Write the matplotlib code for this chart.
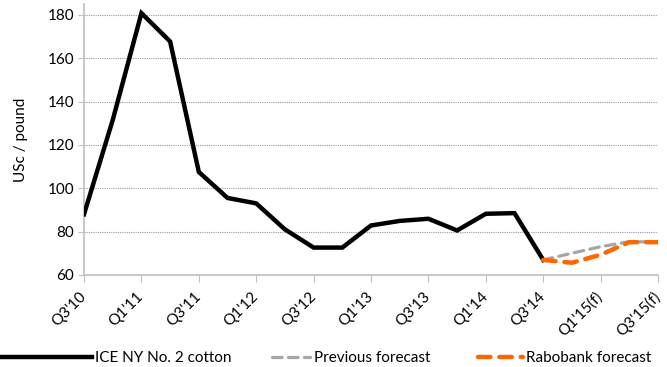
import matplotlib.pyplot as plt
import numpy as np

plt.rcParams['font.family'] = ['Lato', 'DejaVu Sans']

quarters = ["Q3'10", "Q4'10", "Q1'11", "Q2'11", "Q3'11", "Q4'11", "Q1'12", "Q2'12",
            "Q3'12", "Q4'12", "Q1'13", "Q2'13", "Q3'13", "Q4'13", "Q1'14", "Q2'14",
            "Q3'14", "Q4'14(f)", "Q1'15(f)", "Q2'15(f)", "Q3'15(f)"]

ice_cotton = [88, 131.5, 180.8, 167.7, 107.5, 95.5, 93, 81, 72.6, 72.6,
              82.8, 84.9, 85.9, 80.5, 88.2, 88.5, 66.9]
previous_fc = [66.9, 70, 73, 75.3, 75.2]
rabobank_fc = [66.9, 65.6, 69.3, 75.1, 75.1]

x = np.arange(len(quarters))
x_ice = x[:len(ice_cotton)]
x_fc = x[len(ice_cotton) - 1:]

fig = plt.figure(figsize=(6.67, 3.67), dpi=100)
ax = fig.add_axes([0.126, 0.251, 0.8605, 0.738])

l1, = ax.plot(x_ice, ice_cotton, color='black', lw=3.2, solid_joinstyle='miter',
              label='ICE NY No. 2 cotton', zorder=3)
l2, = ax.plot(x_fc, previous_fc, color='#a6a6a6', lw=2.3, dashes=(3, 2),
              dash_capstyle='round', label='Previous forecast', zorder=3)
l3, = ax.plot(x_fc, rabobank_fc, color='#ff6600', lw=3.2, dashes=(2.8, 2),
              dash_capstyle='round', label='Rabobank forecast', zorder=4)

ax.set_xlim(0, len(quarters) - 1)
ax.set_ylim(60, 185)
ax.set_yticks(np.arange(60, 181, 20))
ax.set_xticks(x[::2])
ax.set_xticklabels(quarters[::2], rotation=45, ha='right', va='center',
                   rotation_mode='anchor')
ax.tick_params(axis='x', length=5, color='#bfbfbf', labelsize=11, pad=9)
ax.tick_params(axis='y', length=4, color='#bfbfbf', labelsize=11, pad=3)

for v in range(80, 181, 20):
    ax.axhline(v, color='#999999', lw=0.8, ls=(0, (1, 1)), zorder=1)

for s in ['top', 'right']:
    ax.spines[s].set_visible(False)
for s in ['left', 'bottom']:
    ax.spines[s].set_color('#bfbfbf')
    ax.spines[s].set_linewidth(1.2)

ax.set_ylabel('USc / pound', fontsize=11, labelpad=14)

# three legend entries, placed separately like the original
for h, x0, hl in [(l1, 0.0, 6.0), (l2, 0.408, 2.5), (l3, 0.717, 2.9)]:
    fig.legend(handles=[h], loc='lower left', bbox_to_anchor=(x0, 0.005),
               frameon=False, fontsize=11, handlelength=hl, handletextpad=0.25,
               borderpad=0, borderaxespad=0)

fig.savefig('out.png', dpi=100)
